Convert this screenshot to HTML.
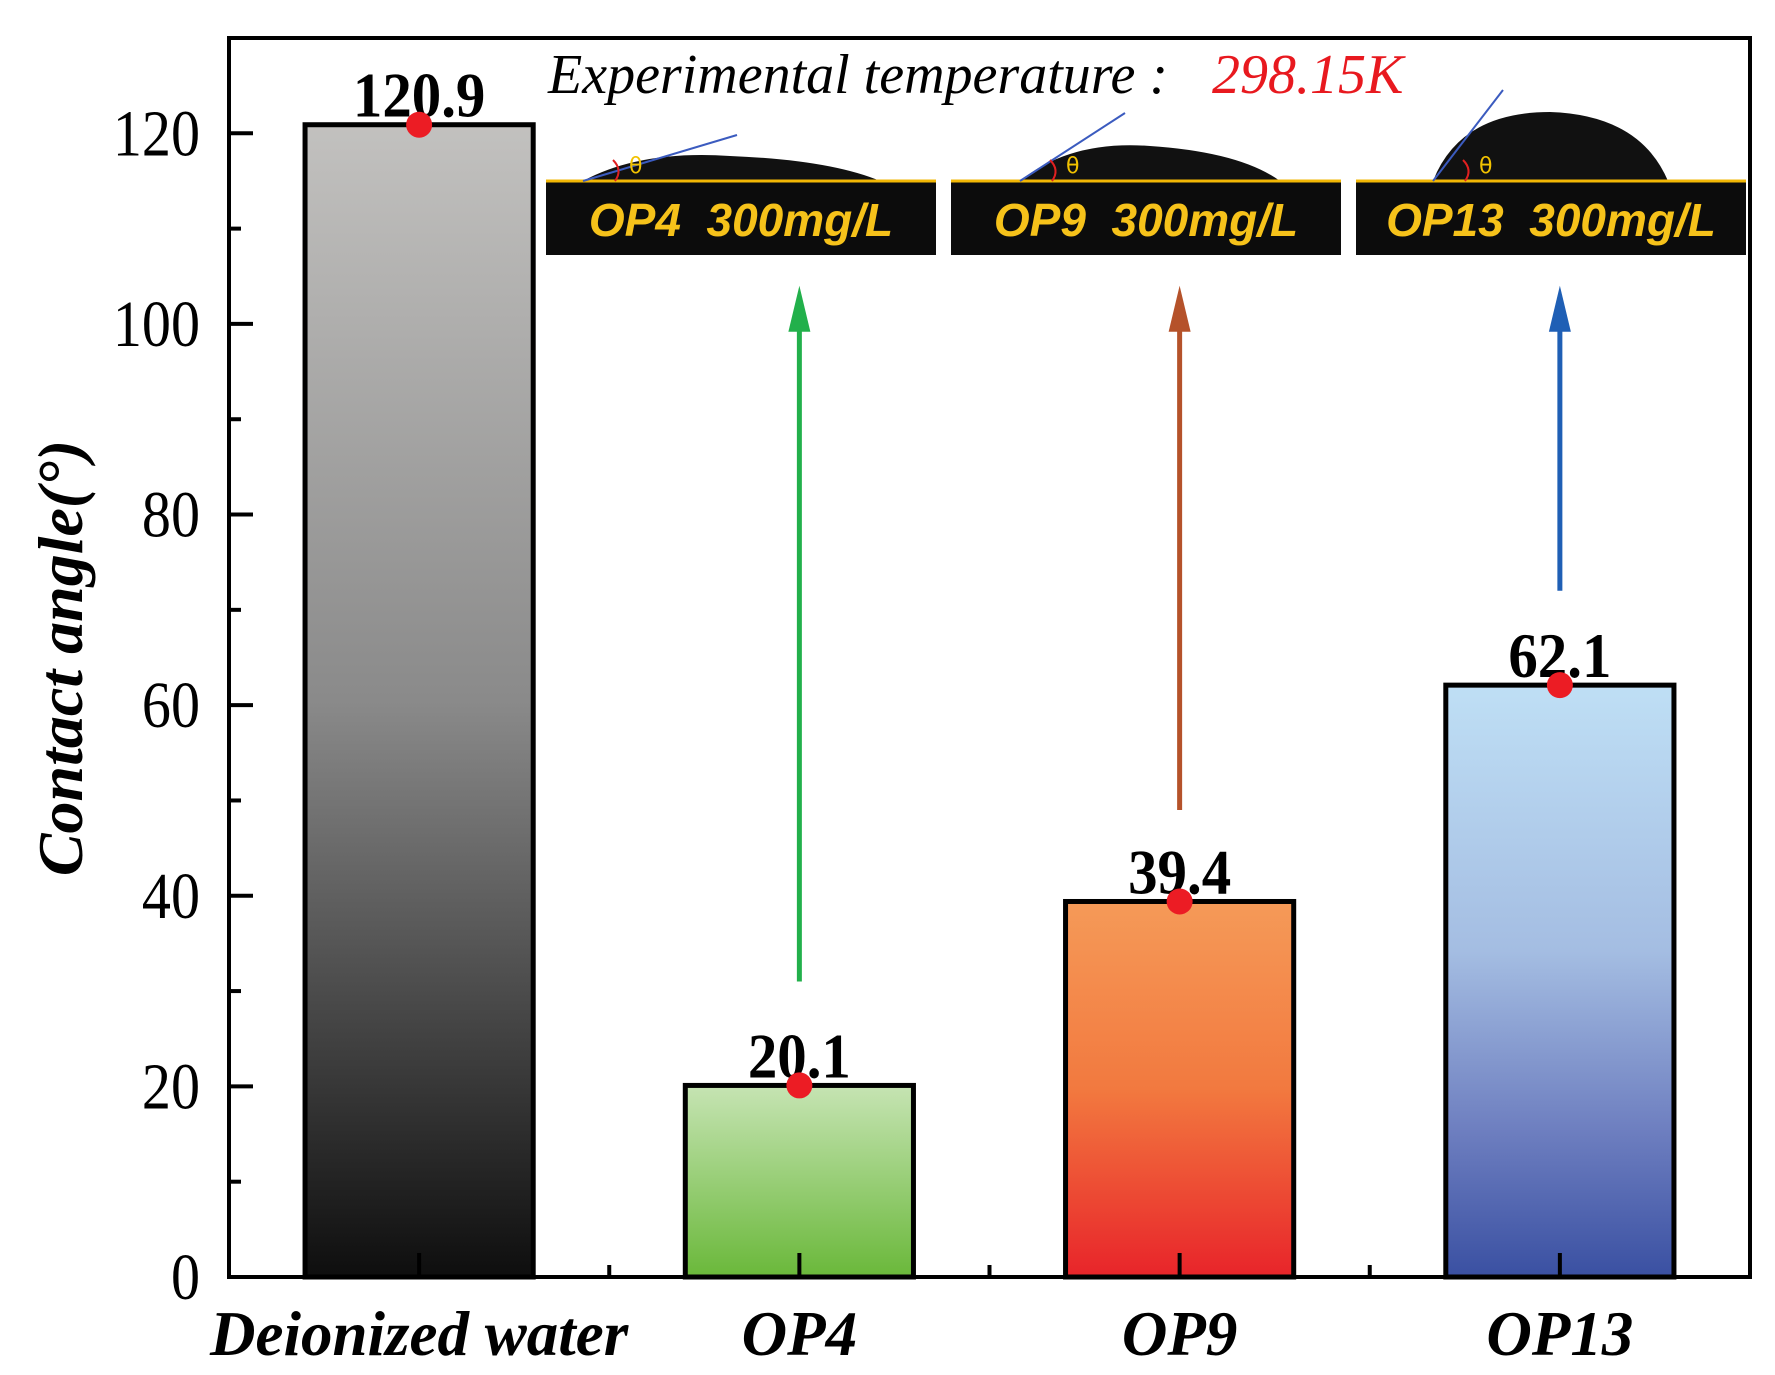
<!DOCTYPE html>
<html><head><meta charset="utf-8"><style>
html,body{margin:0;padding:0;background:#fff;}
svg{display:block;}
</style></head><body>
<svg id="chart" width="1775" height="1375" viewBox="0 0 1775 1375" xmlns="http://www.w3.org/2000/svg" font-family="Liberation Serif, serif">
<defs>
<linearGradient id="g0" x1="0" y1="0" x2="0" y2="1"><stop offset="0" stop-color="#c2c1bf"/><stop offset="0.5" stop-color="#8a8a8a"/><stop offset="1" stop-color="#0e0e0e"/></linearGradient>
<linearGradient id="g1" x1="0" y1="0" x2="0" y2="1"><stop offset="0" stop-color="#c6e4b3"/><stop offset="1" stop-color="#6ab83a"/></linearGradient>
<linearGradient id="g2" x1="0" y1="0" x2="0" y2="1"><stop offset="0" stop-color="#f59a58"/><stop offset="0.5" stop-color="#f2793f"/><stop offset="1" stop-color="#e8242a"/></linearGradient>
<linearGradient id="g3" x1="0" y1="0" x2="0" y2="1"><stop offset="0" stop-color="#bfdff5"/><stop offset="0.45" stop-color="#a4bde2"/><stop offset="0.75" stop-color="#6e7fc0"/><stop offset="1" stop-color="#3a50a2"/></linearGradient>
</defs>
<g id="plot"></g>
</svg>
<script>
const categories = ["Deionized water", "OP4", "OP9", "OP13"];
const values = [120.9, 20.1, 39.4, 62.1];
const valueLabels = ["120.9", "20.1", "39.4", "62.1"];
const yTicks = [0, 20, 40, 60, 80, 100, 120];
const yMinorTicks = [10, 30, 50, 70, 90, 110];
const insetLabels = ["OP4  300mg/L", "OP9  300mg/L", "OP13  300mg/L"];
const arrowFromValues = [31, 49, 72];
const arrowToValues = [104, 104, 104];

const NS = "http://www.w3.org/2000/svg";
const L = 229, R = 1750, T = 38, B = 1277;
const yMax = 130;
const band = (R - L) / categories.length;
function xPos(i){ return L + band * (i + 0.5); }
function yPos(v){ return B - (B - T) * v / yMax; }
const g = document.getElementById("plot");
function mk(tag, attrs, parent){
  const e = document.createElementNS(NS, tag);
  for (const k in attrs) e.setAttribute(k, attrs[k]);
  (parent || g).appendChild(e);
  return e;
}
const fills = ["url(#g0)", "url(#g1)", "url(#g2)", "url(#g3)"];
const bw = band * 0.6;

categories.forEach((c, i) => {
  const y = yPos(values[i]);
  const r = mk("rect", {x: xPos(i) - bw/2, y: y, width: bw, height: B - y, fill: fills[i], stroke: "#000", "stroke-width": 5});
  
  
});

const fr = mk("rect", {x: L, y: T, width: R - L, height: B - T, fill: "none", stroke: "#000", "stroke-width": 4});



yTicks.forEach(v => {
  const y = yPos(v);
  const t = mk("line", {x1: L, x2: L + 24, y1: y, y2: y, stroke: "#000", "stroke-width": 4});
  
  
  const lb = mk("text", {x: 200, y: y + 22, "text-anchor": "end", "font-size": 66, fill: "#000", transform: "translate(200 0) scale(0.88 1) translate(-200 0)"});
  lb.textContent = v;
  
  
});
yMinorTicks.forEach(v => {
  const y = yPos(v);
  const t = mk("line", {x1: L, x2: L + 12, y1: y, y2: y, stroke: "#000", "stroke-width": 4});
  
  
});
categories.forEach((c, i) => {
  const x = xPos(i);
  const t = mk("line", {x1: x, x2: x, y1: B, y2: B - 24, stroke: "#000", "stroke-width": 4});
  
  
  if (i > 0) {
    const m = mk("line", {x1: L + band * i, x2: L + band * i, y1: B, y2: B - 12, stroke: "#000", "stroke-width": 4});
    
    
  }
  const lb = mk("text", {x: x, y: 1355, "text-anchor": "middle", "font-size": 63, "font-weight": "bold", "font-style": "italic", fill: "#000"});
  lb.textContent = c;
  
  
});

categories.forEach((c, i) => {
  const x = xPos(i), y = yPos(values[i]);
  const lb = mk("text", {x: x, y: y - 8, "text-anchor": "middle", "font-size": 64, "font-weight": "bold", fill: "#000", transform: `translate(${x} 0) scale(0.92 1) translate(${-x} 0)`});
  lb.textContent = valueLabels[i];
  
  
  const d = mk("circle", {cx: x, cy: y, r: 13, fill: "#ec1c24"});
  
  
});

const arrowColors = ["#22b04b", "#b5522a", "#1f5fb5"];
arrowFromValues.forEach((v, k) => {
  const i = k + 1, x = xPos(i);
  const y1 = yPos(v), y2 = yPos(arrowToValues[k]);
  const ln = mk("line", {x1: x, x2: x, y1: y1, y2: y2 + 40, stroke: arrowColors[k], "stroke-width": 5});
  
  
  const hd = mk("polygon", {points: `${x},${y2} ${x-11},${y2+46} ${x+11},${y2+46}`, fill: arrowColors[k]});
  
  
});

const insetX = [546, 951, 1356];
const insetW = 390;
const dropPaths = [
  "M583,181 Q640,150 730,156 Q830,160 880,181 Z",
  "M1020,181 Q1070,140 1150,146 Q1240,152 1280,181 Z",
  "M1433,181 Q1460,112 1550,112 Q1640,115 1668,181 Z"
];
const tangents = [[583,181,737,135],[1020,181,1125,113],[1433,181,1503,90]];
insetLabels.forEach((t, k) => {
  const x0 = insetX[k];
  const grp = mk("g", {});
  
  
  mk("path", {d: dropPaths[k], fill: "#111"}, grp);
  mk("rect", {x: x0, y: 182, width: insetW, height: 73, fill: "#0c0c0c"}, grp);
  mk("line", {x1: x0, x2: x0 + insetW, y1: 181, y2: 181, stroke: "#f2b705", "stroke-width": 3}, grp);
  const tg = tangents[k];
  mk("line", {x1: tg[0], y1: tg[1], x2: tg[2], y2: tg[3], stroke: "#3b5bbf", "stroke-width": 2}, grp);
  const ax = tg[0] + 32;
  mk("path", {d: `M${ax},181 Q${ax+8},170 ${ax-2},160`, fill: "none", stroke: "#e02020", "stroke-width": 2}, grp);
  const th = mk("text", {x: ax + 14, y: 173, "font-size": 22, "font-family": "DejaVu Sans, sans-serif", fill: "#f2c200"}, grp);
  th.textContent = "θ";
  const lb = mk("text", {x: x0 + insetW/2, y: 236, "text-anchor": "middle", "font-size": 46, "font-weight": "bold", "font-style": "italic", "font-family": "Liberation Sans, sans-serif", fill: "#f6c21a"}, grp);
  lb.setAttribute("xml:space", "preserve");
  lb.style.whiteSpace = "pre";
  lb.textContent = t;
  
  
});

const tt = mk("text", {x: 548, y: 93, "font-size": 56, "font-style": "italic", fill: "#000"});


const s1 = mk("tspan", {}, tt); s1.textContent = "Experimental temperature :";
const s2 = mk("tspan", {x: 1212, fill: "#e8191f"}, tt); s2.textContent = "298.15K";

const yt = mk("text", {x: 0, y: 0, transform: "translate(82 658) rotate(-90)", "text-anchor": "middle", "font-size": 64, "font-weight": "bold", "font-style": "italic", fill: "#000"});
yt.textContent = "Contact angle(°)";


</script>
</body></html>
